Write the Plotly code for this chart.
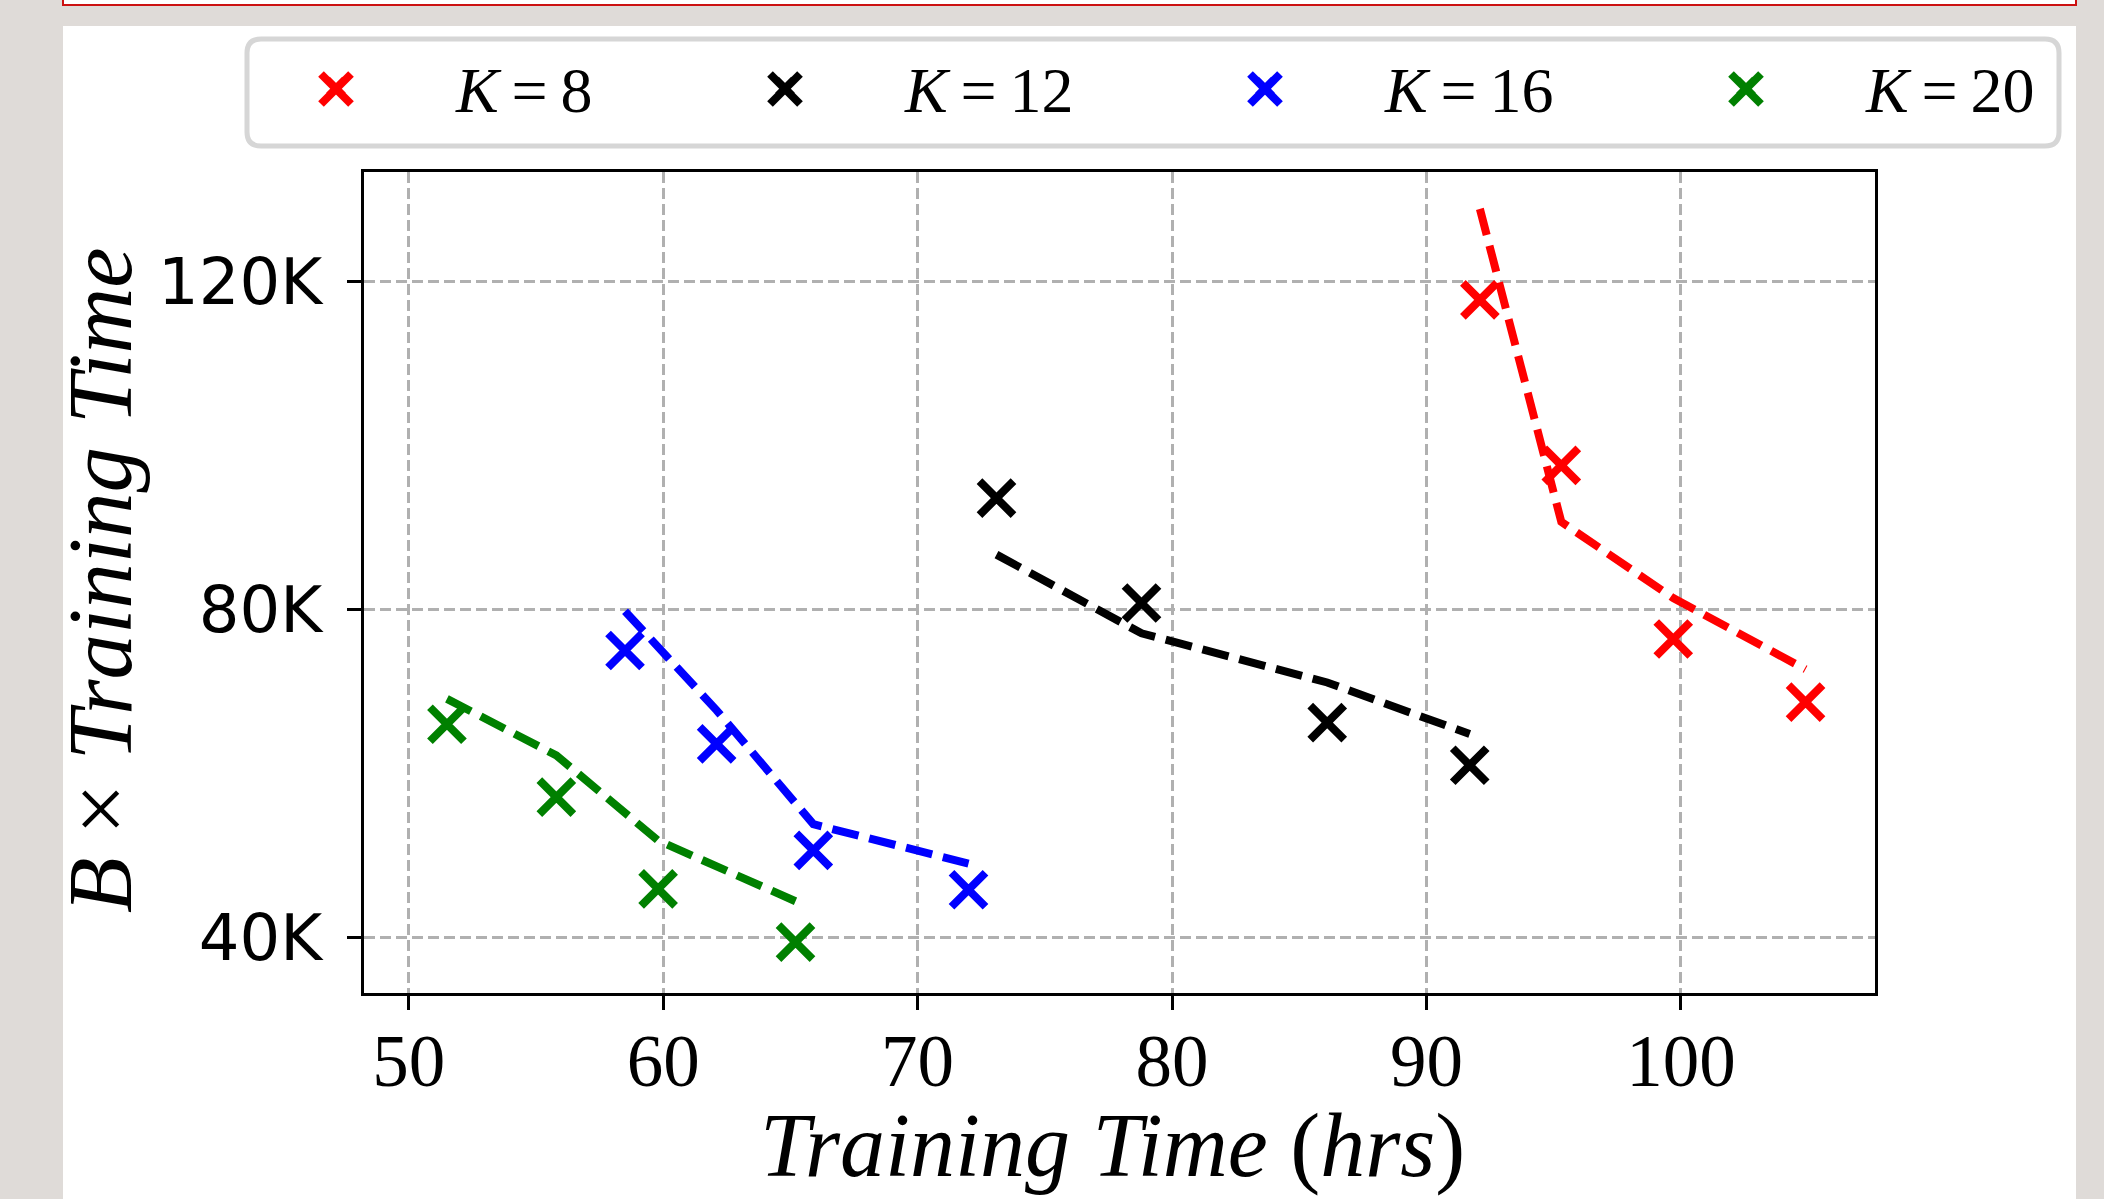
import plotly.graph_objects as go

# ---------------- data ----------------
series_names = ["<i>K</i>\u2009=\u20098", "<i>K</i>\u2009=\u200912", "<i>K</i>\u2009=\u200916", "<i>K</i>\u2009=\u200920"]
series_colors = ["#ff0000", "#000000", "#0000ff", "#008000"]

k8_time = [92.1, 95.3, 99.7, 104.9]
k8_bt = [117800, 97600, 76400, 68700]
k8_fit = [128900, 90700, 81400, 72700]

k12_time = [73.1, 78.8, 86.1, 91.7]
k12_bt = [93600, 80800, 66200, 61000]
k12_fit = [86700, 77100, 71100, 64800]

k16_time = [58.5, 62.1, 65.9, 72.0]
k16_bt = [75000, 63600, 50600, 45800]
k16_fit = [79800, 67700, 53800, 49000]

k20_time = [51.5, 55.8, 59.8, 65.2]
k20_bt = [66000, 57100, 45900, 39400]
k20_fit = [69100, 62200, 51800, 44400]

x_ticks = [50, 60, 70, 80, 90, 100]
y_ticks = [40000, 80000, 120000]
y_tick_labels = ["40K", "80K", "120K"]

times = [k8_time, k12_time, k16_time, k20_time]
bts = [k8_bt, k12_bt, k16_bt, k20_bt]
fits = [k8_fit, k12_fit, k16_fit, k20_fit]

# ---------------- layout geometry (px) ----------------
W, H = 2104, 1199
L, R, T, B = 364, 1875, 172, 993
PW, PH = R - L, B - T


def px(x):
    return (x - L) / PW


def py(y):
    return (B - y) / PH


fig = go.Figure()

legend_ids = ["legend", "legend2", "legend3", "legend4"]
for i in range(4):
    fig.add_trace(go.Scatter(
        x=times[i], y=fits[i], mode="lines", showlegend=False,
        line=dict(color=series_colors[i], width=8, dash="27px,11px"),
        hoverinfo="skip",
    ))
for i in range(4):
    fig.add_trace(go.Scatter(
        x=times[i], y=bts[i], mode="markers", name=series_names[i],
        legend=legend_ids[i],
        marker=dict(symbol="x-thin", size=34, color=series_colors[i],
                    line=dict(color=series_colors[i], width=8)),
    ))

# legend positions (marker centers, px)
legend_marker_px = [336, 785, 1265, 1746]
legend_marker_py = 89
legend_cfg = {}
for i, lid in enumerate(legend_ids):
    legend_cfg[lid] = dict(
        x=px(legend_marker_px[i] - 120), y=py(87), xanchor="left", yanchor="middle",
        orientation="h", itemwidth=230, bgcolor="rgba(0,0,0,0)", borderwidth=0,
        font=dict(family="Liberation Serif", size=64, color="black"),
    )

# rounded legend frame path
lx0, lx1, ly0, ly1, rr = 247, 2059, 39, 146, 14


def rounded(x0, x1, y0, y1, r):
    pts = []
    pts.append(f"M {px(x0 + r)},{py(y0)}")
    pts.append(f"L {px(x1 - r)},{py(y0)}")
    pts.append(f"Q {px(x1)},{py(y0)} {px(x1)},{py(y0 + r)}")
    pts.append(f"L {px(x1)},{py(y1 - r)}")
    pts.append(f"Q {px(x1)},{py(y1)} {px(x1 - r)},{py(y1)}")
    pts.append(f"L {px(x0 + r)},{py(y1)}")
    pts.append(f"Q {px(x0)},{py(y1)} {px(x0)},{py(y1 - r)}")
    pts.append(f"L {px(x0)},{py(y0 + r)}")
    pts.append(f"Q {px(x0)},{py(y0)} {px(x0 + r)},{py(y0)}")
    pts.append("Z")
    return " ".join(pts)


shapes = [
    # white panel
    dict(type="rect", xref="paper", yref="paper", x0=px(63), x1=px(2076), y0=py(1210), y1=py(26),
         fillcolor="white", line=dict(width=0), layer="below"),
    # top red-bordered box
    dict(type="rect", xref="paper", yref="paper", x0=px(63), x1=px(2076), y0=py(5), y1=py(-20),
         fillcolor="white", line=dict(color="#cc1111", width=2), layer="below"),
    # legend frame
    dict(type="path", xref="paper", yref="paper", path=rounded(lx0, lx1, ly0, ly1, rr),
         fillcolor="rgba(255,255,255,0)", line=dict(color="#d6d6d6", width=5), layer="above"),
]

# enlarge the legend key glyphs (plotly caps legend symbol size)
arm = 15
for i, cx in enumerate(legend_marker_px):
    cy = legend_marker_py
    for sgn in (1, -1):
        shapes.append(dict(type="line", xref="paper", yref="paper",
                           x0=px(cx - arm), y0=py(cy - sgn * arm), x1=px(cx + arm), y1=py(cy + sgn * arm),
                           line=dict(color=series_colors[i], width=8), layer="above"))

annotations = [
    dict(text="<i>Training Time</i> (<i>hrs</i>)", xref="paper", yref="paper",
         x=px(1112), y=py(1146), xanchor="center", yanchor="middle", showarrow=False,
         font=dict(family="Liberation Serif", size=90, color="black")),
    dict(text="<i>B</i> × <i>Training Time</i>", xref="paper", yref="paper",
         x=px(100), y=py(580), xanchor="center", yanchor="middle", showarrow=False, textangle=-90,
         font=dict(family="Liberation Serif", size=91, color="black")),
]

fig.update_layout(
    width=W, height=H, autosize=False,
    margin=dict(l=L, r=W - R, t=T, b=H - B, pad=0),
    paper_bgcolor="#dfdbd8", plot_bgcolor="white",
    shapes=shapes, annotations=annotations,
    **legend_cfg,
)

fig.update_xaxes(
    range=[48.24, 107.63], tickvals=x_ticks, ticktext=[str(v) for v in x_ticks],
    showline=True, linecolor="black", linewidth=3, mirror=True,
    ticks="outside", ticklen=14, tickwidth=3, tickcolor="black",
    tickfont=dict(family="Liberation Serif", size=73, color="black"),
    showgrid=True, gridcolor="#b0b0b0", gridwidth=3, griddash="11px,5px",
    zeroline=False, ticklabelstandoff=-12,
)
fig.update_yaxes(
    range=[33200, 133400], tickvals=y_ticks, ticktext=y_tick_labels,
    showline=True, linecolor="black", linewidth=3, mirror=True,
    ticks="outside", ticklen=14, tickwidth=3, tickcolor="black",
    tickfont=dict(family="DejaVu Sans", size=64, color="black"),
    showgrid=True, gridcolor="#b0b0b0", gridwidth=3, griddash="11px,5px",
    zeroline=False, ticklabelstandoff=12,
)

fig.write_html("out.html", include_plotlyjs=True, config={"displayModeBar": False},
               post_script="document.body.style.margin='0';document.body.style.overflow='hidden';")
